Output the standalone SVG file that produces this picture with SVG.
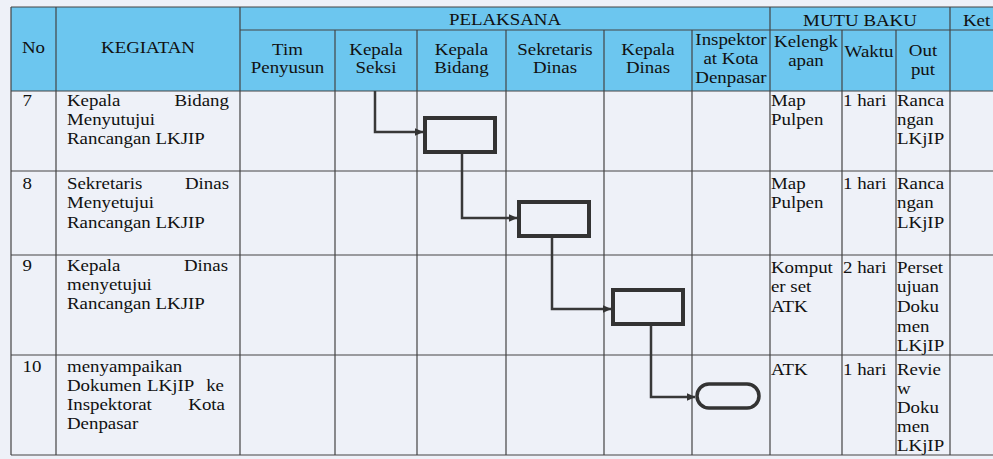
<svg xmlns="http://www.w3.org/2000/svg" width="993" height="459" viewBox="0 0 993 459">
<defs>
<style>
.bg{fill:#eef1f8}
.hdr{fill:#6cc6ef}
.grid line{stroke:#444;stroke-width:1.2}
.t{font-family:"Liberation Serif","Times New Roman",serif;font-size:16px;fill:#111}
.c{text-anchor:middle}
.e{text-anchor:end}
.box{fill:none;stroke:#333;stroke-width:4}
.term{fill:none;stroke:#333;stroke-width:3.5}
.conn{fill:none;stroke:#383838;stroke-width:2.5}
</style>
<marker id="arr" viewBox="0 0 9 8" refX="8.5" refY="4" markerWidth="9" markerHeight="8" markerUnits="userSpaceOnUse" orient="auto">
<path d="M0,0 L9,4 L0,8 z" fill="#333"/>
</marker>
</defs>
<rect class="bg" x="0" y="0" width="993" height="459"/>
<rect class="hdr" x="11" y="7" width="982" height="84"/>
<g id="grid" class="grid">
<line x1="11" y1="7" x2="993" y2="7"/>
<line x1="240" y1="30" x2="993" y2="30"/>
<line x1="11" y1="91" x2="993" y2="91"/>
<line x1="11" y1="171" x2="993" y2="171"/>
<line x1="11" y1="255" x2="993" y2="255"/>
<line x1="11" y1="355" x2="993" y2="355"/>
<line x1="11" y1="455" x2="993" y2="455"/>
<line x1="11" y1="7" x2="11" y2="455"/>
<line x1="56" y1="7" x2="56" y2="455"/>
<line x1="240" y1="7" x2="240" y2="455"/>
<line x1="335" y1="30" x2="335" y2="455"/>
<line x1="417" y1="30" x2="417" y2="455"/>
<line x1="506" y1="30" x2="506" y2="455"/>
<line x1="604" y1="30" x2="604" y2="455"/>
<line x1="692" y1="30" x2="692" y2="455"/>
<line x1="770" y1="7" x2="770" y2="455"/>
<line x1="842" y1="30" x2="842" y2="455"/>
<line x1="896" y1="30" x2="896" y2="455"/>
<line x1="950" y1="7" x2="950" y2="455"/>
</g>
<g id="texts" transform="scale(1.18 1)">
<text class="t c" x="28.39" y="53">No</text>
<text class="t c" x="125.42" y="53">KEGIATAN</text>
<text class="t c" x="427.97" y="25">PELAKSANA</text>
<text class="t c" x="728.81" y="26">MUTU BAKU</text>
<text class="t" x="816.1" y="26">Ket</text>
<text class="t c" x="243.64" y="55">Tim</text>
<text class="t c" x="243.64" y="73">Penyusun</text>
<text class="t c" x="318.64" y="55">Kepala</text>
<text class="t c" x="318.64" y="73">Seksi</text>
<text class="t c" x="391.1" y="55">Kepala</text>
<text class="t c" x="391.1" y="73">Bidang</text>
<text class="t c" x="470.34" y="55">Sekretaris</text>
<text class="t c" x="470.34" y="73">Dinas</text>
<text class="t c" x="549.15" y="55">Kepala</text>
<text class="t c" x="549.15" y="73">Dinas</text>
<text class="t c" x="619.49" y="45">Inspektor</text>
<text class="t c" x="619.49" y="64">at Kota</text>
<text class="t c" x="619.49" y="83">Denpasar</text>
<text class="t c" x="683.05" y="47">Kelengk</text>
<text class="t c" x="683.05" y="66">apan</text>
<text class="t c" x="736.44" y="57">Waktu</text>
<text class="t c" x="782.2" y="56">Out</text>
<text class="t c" x="782.2" y="75">put</text>

<text class="t" x="19.07" y="106">7</text>
<text class="t" y="106"><tspan x="56.78">Kepala</tspan><tspan class="e" x="194.07">Bidang</tspan></text>
<text class="t" x="56.78" y="125">Menyutujui</text>
<text class="t" x="56.78" y="144">Rancangan LKJIP</text>
<text class="t" x="653.39" y="106">Map</text>
<text class="t" x="653.39" y="125">Pulpen</text>
<text class="t" x="714.41" y="106">1 hari</text>
<text class="t" x="760.17" y="106">Ranca</text>
<text class="t" x="760.17" y="125">ngan</text>
<text class="t" x="760.17" y="144">LKjIP</text>

<text class="t" x="19.07" y="189">8</text>
<text class="t" y="189"><tspan x="56.78">Sekretaris</tspan><tspan class="e" x="194.07">Dinas</tspan></text>
<text class="t" x="56.78" y="208">Menyetujui</text>
<text class="t" x="56.78" y="228">Rancangan LKJIP</text>
<text class="t" x="653.39" y="189">Map</text>
<text class="t" x="653.39" y="208">Pulpen</text>
<text class="t" x="714.41" y="189">1 hari</text>
<text class="t" x="760.17" y="189">Ranca</text>
<text class="t" x="760.17" y="208">ngan</text>
<text class="t" x="760.17" y="228">LKjIP</text>

<text class="t" x="19.07" y="271">9</text>
<text class="t" y="271"><tspan x="56.78">Kepala</tspan><tspan class="e" x="193.22">Dinas</tspan></text>
<text class="t" x="56.78" y="290">menyetujui</text>
<text class="t" x="56.78" y="309">Rancangan LKJIP</text>
<text class="t" x="653.39" y="273">Komput</text>
<text class="t" x="653.39" y="292">er set</text>
<text class="t" x="653.39" y="312">ATK</text>
<text class="t" x="714.41" y="273">2 hari</text>
<text class="t" x="760.17" y="273">Perset</text>
<text class="t" x="760.17" y="292">ujuan</text>
<text class="t" x="760.17" y="312">Doku</text>
<text class="t" x="760.17" y="332">men</text>
<text class="t" x="760.17" y="351">LKjIP</text>

<text class="t" x="19.07" y="372">10</text>
<text class="t" x="56.78" y="372">menyampaikan</text>
<text class="t" y="391"><tspan x="56.78">Dokumen</tspan><tspan x="124.58">LKjIP</tspan><tspan class="e" x="189.83">ke</tspan></text>
<text class="t" y="410"><tspan x="56.78">Inspektorat</tspan><tspan class="e" x="190.68">Kota</tspan></text>
<text class="t" x="56.78" y="429">Denpasar</text>
<text class="t" x="653.39" y="375">ATK</text>
<text class="t" x="714.41" y="375">1 hari</text>
<text class="t" x="760.17" y="375">Revie</text>
<text class="t" x="760.17" y="394">w</text>
<text class="t" x="760.17" y="413">Doku</text>
<text class="t" x="760.17" y="432">men</text>
<text class="t" x="760.17" y="451">LKjIP</text>
</g>
<g id="connectors">
<path class="conn" d="M375,91 V132 H423" marker-end="url(#arr)"/>
<path class="conn" d="M462,154 V218 H517" marker-end="url(#arr)"/>
<path class="conn" d="M552,238 V309 H611" marker-end="url(#arr)"/>
<path class="conn" d="M651,326 V397 H695" marker-end="url(#arr)"/>
</g>
<g id="node-kepala-bidang"><rect class="box" x="425" y="118" width="70" height="34"/></g>
<g id="node-sekretaris-dinas"><rect class="box" x="519" y="202" width="70" height="34"/></g>
<g id="node-kepala-dinas"><rect class="box" x="613" y="290" width="70" height="34"/></g>
<g id="node-inspektorat"><rect class="term" x="697" y="384" width="62" height="24" rx="12" ry="12"/></g>
</svg>
